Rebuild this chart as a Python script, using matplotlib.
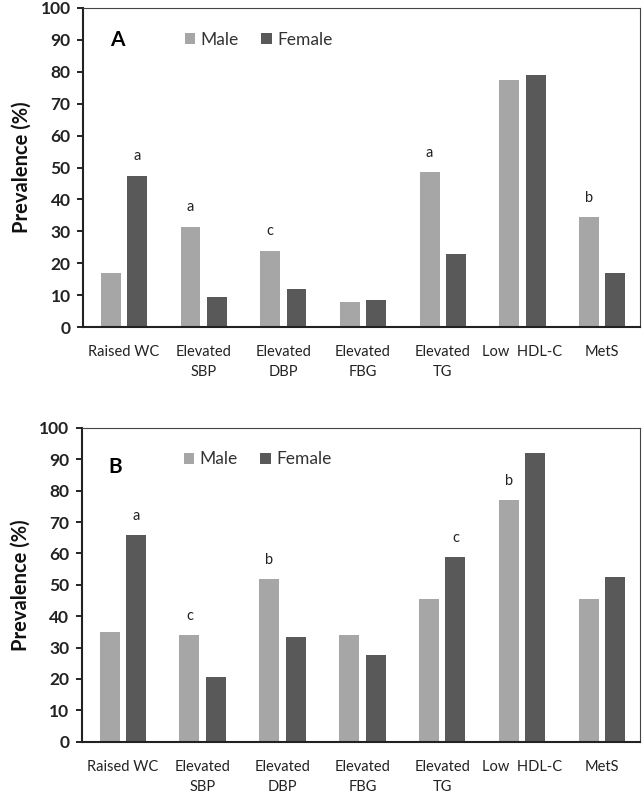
import numpy as np
import matplotlib
matplotlib.use("Agg")
import matplotlib.pyplot as plt

plt.rcParams['font.family'] = ['Lato', 'DejaVu Sans']

categories = ["Raised WC", "Elevated\nSBP", "Elevated\nDBP", "Elevated\nFBG",
              "Elevated\nTG", "Low  HDL-C", "MetS"]

male_a = [17, 31.5, 24, 8, 48.5, 77.5, 34.5]
female_a = [47.5, 9.5, 12, 8.5, 23, 79, 17]
male_b = [35, 34, 52, 34, 45.5, 77, 45.5]
female_b = [66, 20.5, 33.5, 27.5, 59, 92, 52.5]

# significance letters: (category index, series, letter)
letters_a = [(0, "f", "a"), (1, "m", "a"), (2, "m", "c"), (4, "m", "a"), (6, "m", "b")]
letters_b = [(0, "f", "a"), (1, "m", "c"), (2, "m", "b"), (4, "f", "c"), (5, "m", "b")]

c_male = "#a6a6a6"
c_female = "#595959"

fig = plt.figure(figsize=(6.44, 7.94), dpi=100)
ax_a = fig.add_axes([0.129, 0.588, 0.865, 0.402])
ax_b = fig.add_axes([0.127, 0.066, 0.867, 0.395])

x = np.arange(len(categories))
w = 0.25
off = 0.165


def panel(ax, male, female, letters, tag, tag_y):
    ax.bar(x - off, male, w, color=c_male, label="Male")
    ax.bar(x + off, female, w, color=c_female, label="Female")
    for i, s, t in letters:
        if s == "m":
            ax.text(x[i] - off, male[i] + 6, t, ha="center", va="center", fontsize=10.5, color="#222222")
        else:
            ax.text(x[i] + off, female[i] + 6, t, ha="center", va="center", fontsize=10.5, color="#222222")
    ax.set_xlim(-0.513, 6.477)
    ax.set_ylim(0, 100)
    ax.set_yticks(range(0, 101, 10))
    ax.set_xticks(x)
    ax.set_xticklabels(categories, fontsize=10.5, color="#222222", linespacing=1.55)
    ax.tick_params(axis="x", length=0, pad=13)
    ax.tick_params(axis="y", length=4, width=1.2, labelsize=12.5, direction="out", pad=5)
    for lab in ax.get_yticklabels():
        lab.set_fontweight("bold")
        lab.set_color("#222222")
    ax.set_ylabel("Prevalence (%)", fontsize=14.5, fontweight="bold", labelpad=6, color="#111111")
    ax.spines["left"].set_color("#222222")
    ax.spines["bottom"].set_color("#222222")
    ax.spines["left"].set_linewidth(1.5)
    ax.spines["bottom"].set_linewidth(1.5)
    ax.spines["top"].set_color("#444444")
    ax.spines["right"].set_color("#444444")
    ax.text(0.048, tag_y, tag, transform=ax.transAxes, fontsize=15, fontweight="bold",
            ha="left", va="center")
    ax.legend(loc="upper left", bbox_to_anchor=(0.155, 0.975), ncol=2, frameon=False,
              fontsize=12.5, handlelength=0.6, handleheight=0.6, handletextpad=0.3,
              columnspacing=1.3, labelcolor="#333333")


panel(ax_a, male_a, female_a, letters_a, "A", 0.90)
panel(ax_b, male_b, female_b, letters_b, "B", 0.875)

fig.savefig("out.png", dpi=100)
